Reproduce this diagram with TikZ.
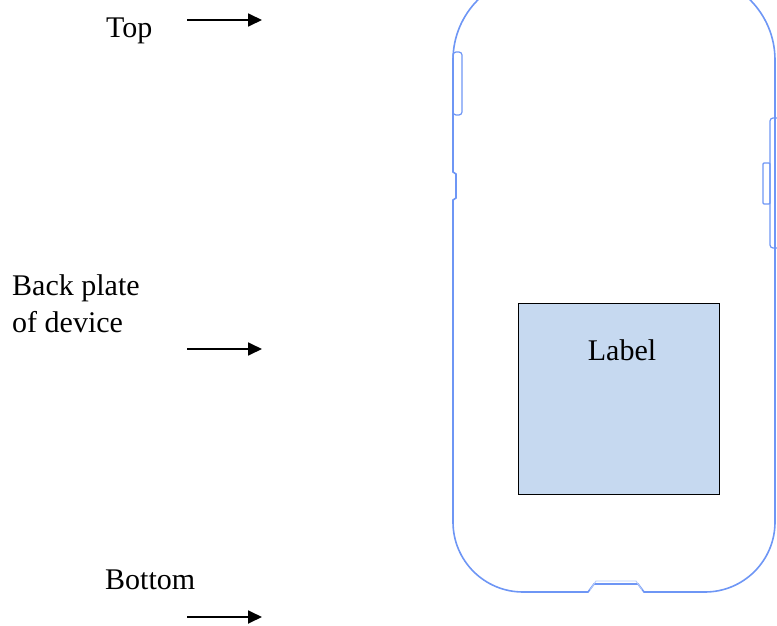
\documentclass[tikz,border=0pt]{standalone}
\usepackage{fontspec}
\setmainfont{Liberation Serif}
\usetikzlibrary{arrows.meta}
\definecolor{outline}{RGB}{110,150,245}
\definecolor{labelfill}{RGB}{198,217,240}
\tikzset{
  txt/.style={inner sep=0pt, anchor=base west, font=\fontsize{30}{37}\selectfont, align=left},
  pointer/.style={line width=1.8pt, -{Triangle[length=14pt,width=13pt]}},
  body/.style={draw=outline, line width=1.6pt},
  part/.style={draw=outline, line width=1.2pt, rounded corners=3pt}
}
\begin{document}
\begin{tikzpicture}[x=1pt,y=-1pt]
\useasboundingbox (0,0) rectangle (777,626);
\clip (0,0) rectangle (777,626);
% phone outline
\draw[body] (453,60) -- (453,172) -- (456,174) -- (456,198) -- (453,200) -- (453,522)
  arc[start angle=180,end angle=90,radius=70] -- (582,592)
  -- (588,592) -- (594,584) -- (638,584) -- (644,592) -- (705,592)
  arc[start angle=90,end angle=0,radius=70] -- (775,60)
  arc[start angle=0,end angle=-90,radius=85] -- (538,-25)
  arc[start angle=-90,end angle=-180,radius=85] -- cycle;
\draw[draw=outline!50, line width=0.9pt] (590,590) -- (596,581) -- (636,581) -- (642,590);
\draw[part] (453,52) rectangle (462,115);
\draw[part] (770,118) rectangle (782,248);
\draw[part, rounded corners=1pt] (763,163) rectangle (770,204);
% label box
\node (labelbox) [draw=black, line width=1.4pt, fill=labelfill, minimum width=201pt, minimum height=191pt, anchor=north west, inner sep=0pt] at (518,303) {};
\node (labeltext) [txt, anchor=base] at (622,360) {Label};
% texts
\node (top) [txt] at (106,38) {Top};
\node (back) [txt] at (12,332) {Back plate\\of device};
\node (bottom) [txt] at (105,589) {Bottom};
% arrows
\coordinate (a1s) at (187,20); \coordinate (a1e) at (262,20);
\coordinate (a2s) at (187,349); \coordinate (a2e) at (262,349);
\coordinate (a3s) at (187,617); \coordinate (a3e) at (262,617);
\draw[pointer] (a1s) -- (a1e);
\draw[pointer] (a2s) -- (a2e);
\draw[pointer] (a3s) -- (a3e);
\end{tikzpicture}
\end{document}
